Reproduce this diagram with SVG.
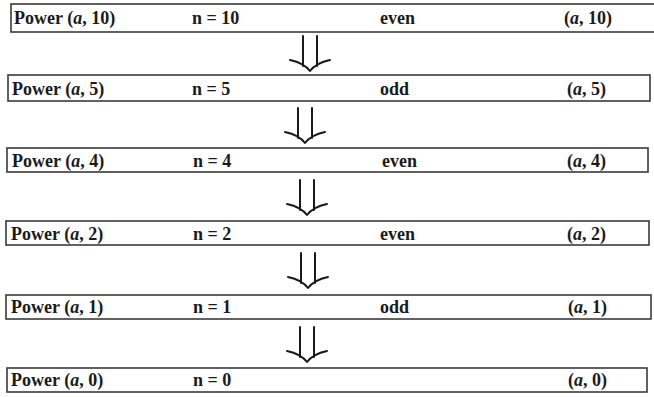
<svg xmlns="http://www.w3.org/2000/svg" xmlns:xlink="http://www.w3.org/1999/xlink" width="654" height="397" viewBox="0 0 654 397">
<style>
.box{fill:#fff;stroke:#3a3a3a;stroke-width:1.6}
.t{font-family:"Liberation Serif","Times New Roman",serif;font-size:18px;font-weight:bold;fill:#1a1a1a}
.i{font-style:italic}
.arr{fill:none;stroke:#1a1a1a;stroke-width:2;stroke-linecap:round;stroke-linejoin:round}
</style>
<defs>
<g id="dbl" class="arr">
<path d="M-7,0 V30 M7,0 V30"/>
<path d="M-20,24 Q-6,27 0,35 Q6,27 20,24"/>
</g>
</defs>
<rect width="654" height="397" fill="#fff"/>
<g id="connectors">
<use xlink:href="#dbl" href="#dbl" x="310" y="36"/>
<use xlink:href="#dbl" href="#dbl" x="305" y="108"/>
<use xlink:href="#dbl" href="#dbl" x="307" y="180"/>
<use xlink:href="#dbl" href="#dbl" x="308" y="253"/>
<use xlink:href="#dbl" href="#dbl" x="307" y="327"/>
</g>
<g id="node1">
<rect class="box" x="11" y="4" width="650" height="28"/>
<text class="t" x="14" y="24">Power (<tspan class="i">a</tspan>, 10)</text>
<text class="t" x="192" y="24">n = 10</text>
<text class="t" x="380" y="24">even</text>
<text class="t" x="564" y="24">(<tspan class="i">a</tspan>, 10)</text>
</g>
<g id="node2">
<rect class="box" x="8" y="75" width="642" height="26"/>
<text class="t" x="12" y="95">Power (<tspan class="i">a</tspan>, 5)</text>
<text class="t" x="192" y="95">n = 5</text>
<text class="t" x="380" y="95">odd</text>
<text class="t" x="567" y="95">(<tspan class="i">a</tspan>, 5)</text>
</g>
<g id="node3">
<rect class="box" x="7" y="148" width="641" height="24"/>
<text class="t" x="12" y="167">Power (<tspan class="i">a</tspan>, 4)</text>
<text class="t" x="193" y="167">n = 4</text>
<text class="t" x="382" y="167">even</text>
<text class="t" x="567" y="167">(<tspan class="i">a</tspan>, 4)</text>
</g>
<g id="node4">
<rect class="box" x="6" y="221" width="643" height="24"/>
<text class="t" x="11" y="240">Power (<tspan class="i">a</tspan>, 2)</text>
<text class="t" x="193" y="240">n = 2</text>
<text class="t" x="380" y="240">even</text>
<text class="t" x="567" y="240">(<tspan class="i">a</tspan>, 2)</text>
</g>
<g id="node5">
<rect class="box" x="6" y="295" width="645" height="24"/>
<text class="t" x="11" y="313">Power (<tspan class="i">a</tspan>, 1)</text>
<text class="t" x="193" y="313">n = 1</text>
<text class="t" x="380" y="313">odd</text>
<text class="t" x="568" y="313">(<tspan class="i">a</tspan>, 1)</text>
</g>
<g id="node6">
<rect class="box" x="7" y="368" width="640" height="24"/>
<text class="t" x="11" y="386">Power (<tspan class="i">a</tspan>, 0)</text>
<text class="t" x="193" y="386">n = 0</text>
<text class="t" x="568" y="386">(<tspan class="i">a</tspan>, 0)</text>
</g>
</svg>
